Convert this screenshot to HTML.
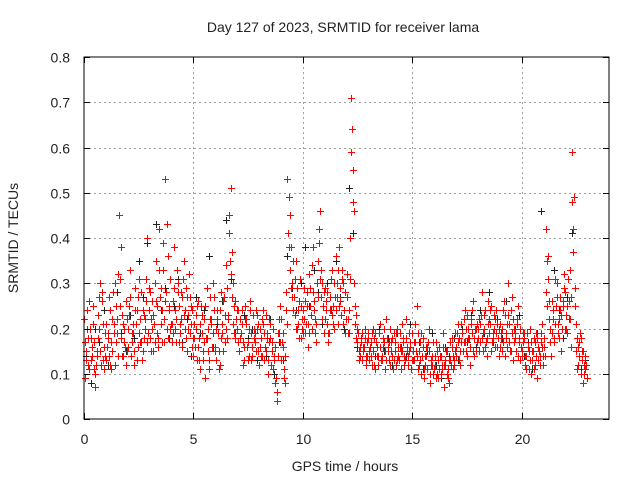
<!DOCTYPE html>
<html><head><meta charset="utf-8"><style>
body{margin:0;background:#fff;}
svg{display:block;font-family:"Liberation Sans",sans-serif;}
</style></head><body>
<svg id="chart" width="640" height="480">
<text x="343" y="32" font-size="14" text-anchor="middle" fill="#222">Day 127 of 2023, SRMTID for receiver lama</text>
<text x="345" y="471" font-size="14" text-anchor="middle" fill="#222">GPS time / hours</text>
<text x="18" y="238" font-size="14" text-anchor="middle" fill="#222" transform="rotate(-90 18 238)">SRMTID / TECUs</text>
<g id="grid"></g>
<g id="marks"></g>
<rect x="84" y="57" width="525" height="362" fill="none" stroke="#000" stroke-width="1"/>
<g id="ticks"></g>
</svg>
<script>
const xTicks=[0,5,10,15,20];
const yTicks=[0,0.1,0.2,0.3,0.4,0.5,0.6,0.7,0.8];
const yTickLabels=["0","0.1","0.2","0.3","0.4","0.5","0.6","0.7","0.8"];
const redA=[.22,.15,.12,.18,.25,.10,.14,.20,.28,.16,.13,.19,.24,.15,.30,.22,.45,.18,.14,.26,.20,.33,.17,.12,.24,.19,.28,.15,.22,.40,.18,.26,.21,.35,.16,.29,.33,.53,.20,.25,.17,.38,.22,.30,.19,.27,.24,.15,.32,.21,.14,.20,.26,.11,.23,.17,.29,.13,.22,.30,.16,.24,.12,.19,.27,.34,.22,.51,.30,.18,.20,.15,.24,.13,.21,.17,.26,.14,.19,.23,.12,.18,.24,.15,.10,.21,.17,.14,.04,.19,.22,.16,.08,.53,.45,.30,.27,.35,.21,.18,.24,.19,.28,.32,.20,.26,.17,.35,.46,.30,.22,.28,.19,.31,.25,.36,.21,.29,.33,.24,.27,.19,.71,.55,.21,.17,.14,.19,.16,.12,.18,.14,.20,.11,.16,.19,.13,.17,.22,.15,.12,.18,.15,.20,.13,.11,.17,.22,.14,.16,.19,.13,.25,.15,.10,.18,.12,.16,.08,.14,.11,.17,.09,.14,.19,.12,.15,.08,.18,.13,.16,.21,.12,.19,.24,.14,.18,.22,.26,.15,.20,.17,.28,.23,.14,.19,.25,.18,.22,.16,.21,.15,.26,.18,.30,.24,.13,.19,.22,.17,.14,.18,.11,.16,.20,.13,.17,.09,.15,.19,.12,.42,.36,.20,.26,.18,.30,.22,.15,.25,.28,.19,.33,.59,.49,.15,.12,.18,.08,.14];
const redB=[.09,.20,.26,.14,.17,.12,.23,.30,.13,.19,.16,.27,.11,.21,.17,.32,.25,.14,.20,.15,.25,.14,.21,.29,.16,.22,.13,.18,.31,.24,.22,.15,.30,.19,.42,.24,.17,.28,.36,.20,.26,.20,.33,.17,.28,.35,.18,.23,.27,.16,.21,.13,.18,.25,.15,.09,.20,.27,.16,.24,.20,.11,.28,.15,.23,.18,.45,.37,.25,.22,.17,.22,.12,.25,.16,.20,.13,.18,.24,.15,.16,.22,.13,.19,.17,.12,.20,.08,.14,.25,.17,.09,.28,.49,.38,.24,.31,.20,.26,.22,.29,.21,.16,.25,.38,.22,.30,.42,.27,.19,.26,.17,.24,.33,.20,.27,.38,.23,.30,.19,.22,.40,.64,.30,.18,.13,.17,.15,.20,.14,.15,.19,.12,.17,.14,.21,.16,.11,.18,.13,.17,.13,.19,.14,.16,.21,.12,.15,.19,.11,.15,.21,.11,.17,.14,.09,.16,.20,.12,.10,.14,.10,.16,.12,.07,.15,.11,.17,.14,.19,.19,.13,.17,.22,.15,.20,.12,.24,.18,.21,.15,.23,.19,.16,.26,.21,.17,.23,.19,.14,.18,.24,.14,.21,.17,.27,.20,.15,.25,.13,.17,.12,.19,.15,.10,.18,.14,.16,.12,.21,.16,.35,.26,.14,.22,.31,.19,.27,.20,.32,.23,.26,.16,.37,.25,.11,.17,.13,.10,.12];
const redC=[.17,.24,.11,.13,.21,.07,.18,.15,.26,.11,.21,.14,.17,.28,.12,.19,.31,.23,.17,.12,.16,.27,.19,.24,.13,.31,.17,.23,.26,.19,.28,.20,.17,.25,.33,.21,.39,.26,.18,.31,.21,.29,.17,.25,.22,.31,.20,.27,.19,.24,.18,.23,.16,.21,.13,.25,.18,.11,.21,.27,.13,.19,.24,.21,.17,.29,.41,.32,.21,.26,.24,.18,.21,.16,.22,.14,.19,.23,.17,.20,.20,.14,.19,.23,.13,.18,.11,.16,.06,.22,.13,.11,.24,.41,.33,.27,.23,.29,.18,.25,.19,.26,.21,.29,.34,.24,.21,.39,.33,.25,.29,.21,.27,.23,.30,.24,.33,.26,.21,.28,.32,.24,.59,.46,.23,.19,.16,.13,.18,.17,.13,.17,.15,.19,.12,.16,.14,.20,.13,.17,.15,.11,.17,.13,.19,.15,.14,.18,.12,.17,.13,.17,.14,.12,.19,.11,.14,.17,.10,.12,.12,.15,.11,.10,.16,.13,.09,.13,.16,.12,.14,.18,.21,.15,.17,.23,.16,.19,.14,.20,.18,.21,.15,.24,.18,.22,.15,.20,.24,.18,.16,.20,.23,.16,.21,.15,.22,.18,.14,.20,.15,.19,.14,.11,.17,.15,.12,.18,.14,.16,.18,.28,.31,.17,.24,.21,.27,.18,.23,.29,.20,.31,.22,.48,.29,.18,.14,.10,.15,.11];
const redD=[.13,.18,.20,.16,.11,.15,.27,.12,.21,.14,.18,.12,.22,.19,.25,.14,.38,.21,.16,.22,.23,.19,.15,.21,.27,.17,.24,.20,.17,.29,.15,.23,.26,.18,.27,.17,.22,.43,.24,.21,.19,.24,.28,.21,.16,.23,.29,.20,.25,.18,.16,.25,.13,.19,.22,.18,.15,.22,.19,.15,.22,.15,.18,.26,.20,.23,.35,.27,.19,.24,.15,.19,.17,.22,.13,.24,.16,.20,.15,.21,.14,.21,.16,.18,.22,.15,.13,.09,.19,.17,.19,.14,.21,.38,.29,.35,.20,.24,.31,.20,.22,.25,.19,.23,.28,.19,.27,.31,.22,.28,.24,.19,.31,.21,.27,.30,.25,.31,.24,.22,.19,.31,.48,.25,.20,.15,.18,.16,.14,.19,.16,.12,.18,.14,.19,.13,.18,.15,.16,.20,.14,.19,.12,.16,.15,.18,.13,.16,.15,.13,.17,.15,.19,.13,.16,.14,.11,.15,.13,.17,.09,.13,.14,.11,.12,.10,.13,.12,.11,.15,.17,.15,.19,.17,.20,.18,.21,.15,.20,.17,.22,.18,.20,.17,.21,.24,.19,.16,.21,.20,.19,.17,.19,.23,.15,.19,.17,.21,.18,.16,.19,.14,.16,.13,.15,.11,.19,.13,.17,.14,.14,.25,.22,.19,.17,.25,.21,.24,.26,.20,.25,.22,.27,.42,.21,.16,.19,.15,.12,.09];
const blackC=[.14,.08,.20,.17,.24,.12,.22,.28,.19,.15,.23,.18,.35,.27,.39,.20,.43,.24,.29,.18,.25,.31,.17,.22,.14,.27,.19,.24,.36,.16,.21,.26,.44,.31,.19,.15,.23,.18,.20,.13,.18,.14,.22,.10,.17,.13,.36,.29,.24,.30,.38,.25,.33,.28,.21,.30,.24,.35,.27,.20,.51,.41,.16,.19,.13,.17,.14,.20,.15,.18,.12,.19,.16,.14,.21,.13,.17,.11,.15,.19,.12,.09,.16,.14,.18,.13,.20,.17,.23,.16,.24,.19,.28,.17,.22,.18,.26,.15,.20,.23,.14,.17,.11,.19,.46,.28,.20,.33,.24,.18,.27,.41,.15,.11,.13];
const NS="http://www.w3.org/2000/svg";
const X0=84,X1=609,Y0=419,Y1=57;
function xs(t){return X0+(X1-X0)*t/24;}
function ys(v){return Y0-(Y0-Y1)*v/0.8;}
const grid=document.getElementById('grid'),ticks=document.getElementById('ticks'),marks=document.getElementById('marks');
function line(p,x1,y1,x2,y2,st,dash){const l=document.createElementNS(NS,'line');l.setAttribute('x1',x1);l.setAttribute('y1',y1);l.setAttribute('x2',x2);l.setAttribute('y2',y2);l.setAttribute('stroke',st);if(dash)l.setAttribute('stroke-dasharray',dash);p.appendChild(l);return l;}
yTicks.forEach((v,i)=>{const y=Math.round(ys(v))+0.5;
 if(i>0&&i<yTicks.length-1){const g=line(grid,X0,y,X1,y,'#a0a0a0','2,3');}
 line(ticks,X0,y,X0+6,y,'#000');line(ticks,X1,y,X1-6,y,'#000');
 const t=document.createElementNS(NS,'text');t.setAttribute('x',70);t.setAttribute('y',y+5);t.setAttribute('text-anchor','end');t.setAttribute('font-size','14');t.setAttribute('fill','#222');t.textContent=yTickLabels[i];
 
 
 ticks.appendChild(t);});
xTicks.forEach(v=>{const x=Math.round(xs(v))+0.5;
 if(v>0){const g=line(grid,x,Y0,x,Y1,'#a0a0a0','2,3');}
 line(ticks,x,Y0,x,Y0-6,'#000');line(ticks,x,Y1,x,Y1+6,'#000');
 const t=document.createElementNS(NS,'text');t.setAttribute('x',x);t.setAttribute('y',444);t.setAttribute('text-anchor','middle');t.setAttribute('font-size','14');t.setAttribute('fill','#222');t.textContent=String(v);
 
 
 ticks.appendChild(t);});
function plus(arr,start,step,color,name){let d='';arr.forEach((v,i)=>{const x=Math.round(xs(start+i*step))+0.5,y=Math.round(ys(v))+0.5;d+=`M${x-3.5} ${y}H${x+3.5}M${x} ${y-3.5}V${y+3.5}`;});
 const p=document.createElementNS(NS,'path');p.setAttribute('d',d);p.setAttribute('stroke',color);p.setAttribute('stroke-width','1');p.setAttribute('fill','none');
 
 
 marks.appendChild(p);}
plus(blackC,0.1,0.2,'#222','series-black');
plus(redA,0,0.1,'#ff0000','series-red-a');
plus(redB,0.05,0.1,'#ff0000','series-red-b');
plus(redC,0.025,0.1,'#ff0000','series-red-c');
plus(redD,0.075,0.1,'#ff0000','series-red-d');
</script>
</body></html>
